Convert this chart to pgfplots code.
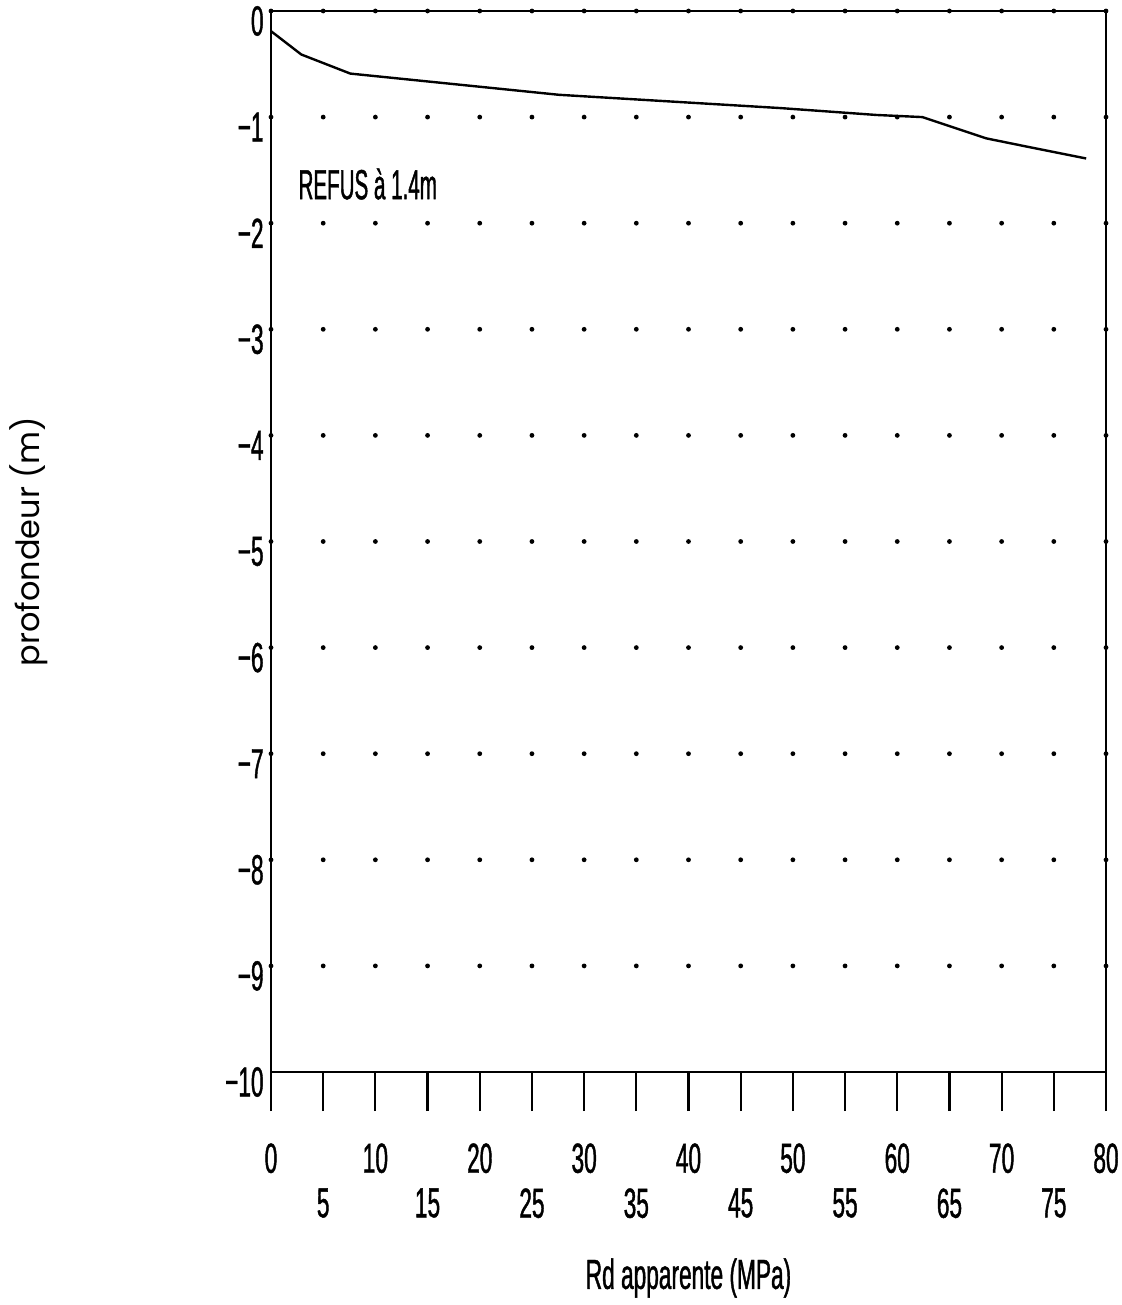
\documentclass[border=0pt]{standalone}
\usepackage{fontspec}
\usepackage{pgfplots}
\pgfplotsset{compat=1.18}
\setmainfont{Liberation Sans}[FakeStretch=0.54, FakeBold=1]
\newfontfamily\narrowfont{Liberation Sans}[FakeStretch=0.49, FakeBold=1]
\newfontfamily\labelfont{Poppins}
\begin{document}
\begin{tikzpicture}
\useasboundingbox (-135.5pt,-116.5pt) rectangle (425pt,536pt);
\begin{axis}[
  at={(0pt,0pt)}, anchor=south west,
  x=5.21875pt, y=53.05pt,
  xmin=0, xmax=80, ymin=-10, ymax=0,
  axis line style={line width=1.3pt},
  xtick={0,10,...,80},
  extra x ticks={5,15,...,75},
  ytick={-9,-8,...,0},
  yticklabels={−9,−8,−7,−6,−5,−4,−3,−2,−1,0},
  extra y ticks={-10},
  extra y tick labels={−10},
  extra y tick style={grid=none, ytick style={draw=none}},
  xtick pos=bottom, ytick pos=left,
  tick align=outside,
  major tick length=19.5pt,
  xtick style={line width=1.1pt, black},
  extra x tick style={grid=none, xtick style={line width=1.1pt, black}, xticklabel style={yshift=-22.5pt}},
  ytick style={draw=none},
  ymajorgrids,
  major grid style={black, line width=2.4pt, line cap=round, dash pattern=on 0pt off 26.09375pt},
  /pgf/number format/assume math mode=true,
  ticklabel style={font=\fontsize{21}{21}\selectfont},
  xticklabel style={anchor=north, inner sep=0pt},
  xticklabel shift=16pt,
  yticklabel style={anchor=east, inner sep=0pt, xshift=16pt, yshift=-5pt},
  xlabel={Rd apparente (MPa)},
  xlabel style={font=\fontsize{21}{21}\selectfont, at={(axis description cs:0.5,0)}, anchor=center, yshift=-103pt},
  ylabel={profondeur (m)},
  ylabel style={font=\labelfont\fontsize{16}{16}\selectfont, at={(axis description cs:0,0.5)}, anchor=center, xshift=0pt, yshift=121pt},
  clip=false,
]
\addplot[black, line width=1.2pt, mark=none] coordinates {
(0,-0.19) (2.9,-0.41) (7.6,-0.59) (27.6,-0.79) (48.8,-0.915) (58,-0.98) (62.4,-1.0) (68.5,-1.20) (73,-1.29) (78.1,-1.39)
};
\node[anchor=west, inner sep=0pt, font=\narrowfont\fontsize{21}{21}\selectfont] at (axis cs:2.6,-1.63) {REFUS à 1.4m};
\end{axis}
\end{tikzpicture}
\end{document}
